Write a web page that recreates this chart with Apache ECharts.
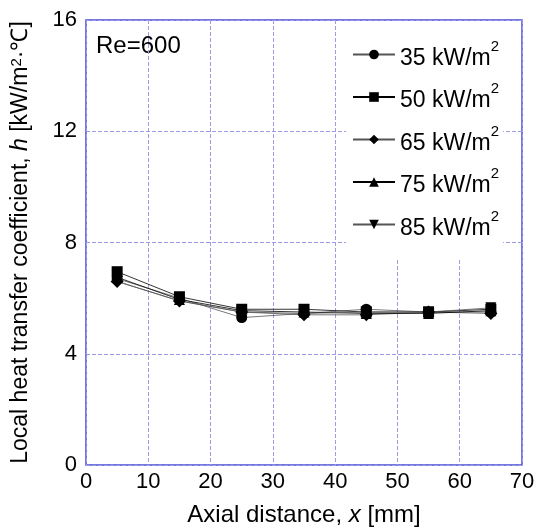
<!DOCTYPE html>
<html>
<head>
<meta charset="utf-8">
<script src="https://cdn.jsdelivr.net/npm/echarts@6/dist/echarts.min.js"></script>
<style>
  html, body { margin: 0; padding: 0; background: #fff; }
  #chart { width: 545px; height: 532px; }
</style>
</head>
<body>
<div id="chart"></div>
<script>
const xPos = [5, 15, 25, 35, 45, 55, 65]
const q35 = [6.7, 6.0, 5.3, 5.45, 5.6, 5.5, 5.5]
const q50 = [6.95, 6.05, 5.6, 5.6, 5.5, 5.5, 5.6]
const q65 = [6.6, 5.9, 5.5, 5.4, 5.4, 5.5, 5.45]
const q75 = [6.75, 5.95, 5.55, 5.5, 5.45, 5.45, 5.55]
const q85 = [6.6, 5.9, 5.5, 5.45, 5.5, 5.5, 5.65]
const seriesNames = ['35', '50', '65', '75', '85']
const symbols = ['circle', 'rect', 'diamond', 'triangle', 'triangle']
const rotations = [0, 0, 0, 0, 180]
const lineColors = ['#555', '#000', '#555', '#000', '#555']

const allData = [q35, q50, q65, q75, q85]
const font = 'Liberation Sans, Arial, sans-serif'

const chart = echarts.init(document.getElementById('chart'))

const series = seriesNames.map((name, i) => ({
  name: name,
  type: 'line',
  data: xPos.map((x, j) => [x, allData[i][j]]),
  symbol: symbols[i],
  symbolRotate: rotations[i],
  symbolSize: i === 2 ? 13 : 11,
  lineStyle: { color: lineColors[i], width: 0.8 },
  itemStyle: { color: '#000' },
  z: 2,
}))

chart.setOption({
  animation: false,
  grid: {
    left: 86,
    right: 23,
    top: 20,
    bottom: 66,
    show: true,
    borderColor: '#4a4ad6',
    borderWidth: 1.5,
  },
  legend: {
    orient: 'vertical',
    left: 346,
    top: 21,
    itemWidth: 42,
    itemHeight: 12,
    itemGap: 11.5,
    padding: [18, 4, 20, 6],
    backgroundColor: '#fff',
    inactiveColor: '#000',
    formatter: (name) => `{t|${name} kW/m}{s|2}`,
    textStyle: {
      rich: {
        t: { fontSize: 23, fontFamily: font, color: '#000', padding: [8, 0, 0, 0] },
        s: { fontSize: 15, fontFamily: font, color: '#000', verticalAlign: 'top', padding: [0, 0, 8, 0] },
      },
    },
    z: 5,
  },
  graphic: [
    {
      type: 'text',
      left: 96,
      top: 34,
      style: { text: 'Re=600', fontSize: 24, fontFamily: font, fill: '#000' },
    },
  ],
  xAxis: {
    type: 'value',
    min: 0,
    max: 70,
    interval: 10,
    name: '{a|Axial distance, }{i|x}{a| [mm]}',
    nameLocation: 'middle',
    nameGap: 38,
    nameTextStyle: {
      rich: {
        a: { fontSize: 24, fontFamily: font, color: '#000' },
        i: { fontSize: 24, fontFamily: font, color: '#000', fontStyle: 'italic' },
      },
    },
    axisLine: { show: false },
    axisTick: { show: false },
    axisLabel: { color: '#000', fontSize: 22, fontFamily: font, margin: 6 },
    splitLine: { lineStyle: { color: '#9c9ce6', type: [4, 2], width: 1 } },
  },
  yAxis: {
    type: 'value',
    min: 0,
    max: 16,
    interval: 4,
    name: '{a|Local heat transfer coefficient, }{i|h}{a| [kW/m}{s|2}{a|·℃]}',
    nameLocation: 'middle',
    nameGap: 54,
    nameTextStyle: {
      rich: {
        a: { fontSize: 23, fontFamily: font, color: '#000' },
        i: { fontSize: 23, fontFamily: font, color: '#000', fontStyle: 'italic' },
        s: { fontSize: 15, fontFamily: font, color: '#000', verticalAlign: 'top', padding: [0, 0, 8, 0] },
      },
    },
    axisLine: { show: false },
    axisTick: { show: false },
    axisLabel: { color: '#000', fontSize: 22, fontFamily: font, margin: 9 },
    splitLine: { lineStyle: { color: '#9c9ce6', type: [4, 2], width: 1 } },
  },
  series: series,
})
</script>
</body>
</html>
